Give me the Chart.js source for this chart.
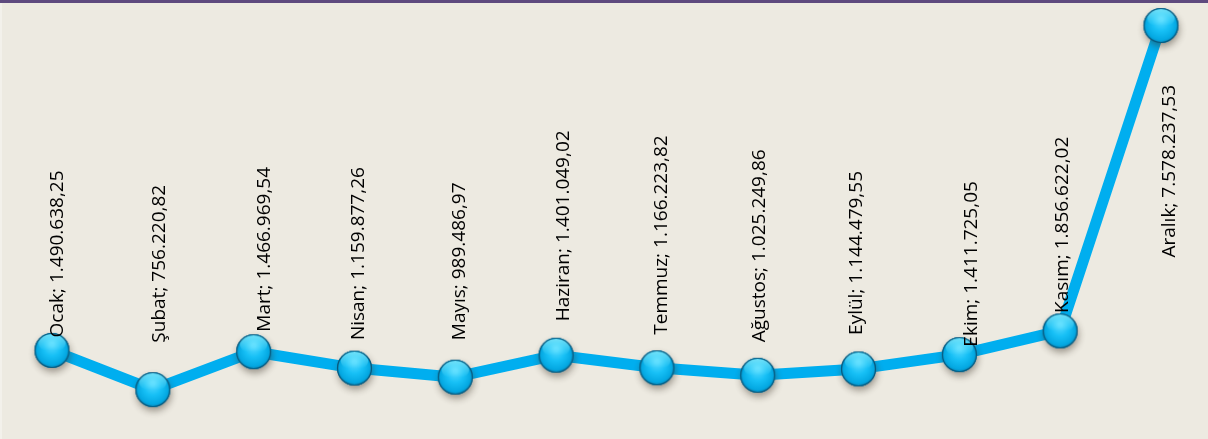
<!DOCTYPE html>
<html>
<head>
<meta charset="utf-8">
<script src="https://cdn.jsdelivr.net/npm/chart.js@4/dist/chart.umd.min.js"></script>
<style>
  html, body { margin: 0; padding: 0; background: #EDEAE1; }
  #cadre { position: relative; width: 1208px; height: 439px; }
</style>
</head>
<body>
<div id="cadre"><canvas id="Graphique"></canvas></div>
<script>
/*
  Satış tutarı aylara göre (çizgi grafik, etiketler dikey)
*/
var aylar = ['Ocak', 'Şubat', 'Mart', 'Nisan', 'Mayıs', 'Haziran',
    'Temmuz', 'Ağustos', 'Eylül', 'Ekim', 'Kasım', 'Aralık'];
var tutarlar = [1490638.25, 756220.82, 1466969.54, 1159877.26, 989486.97, 1401049.02,
    1166223.82, 1025249.86, 1144479.55, 1411725.05, 1856622.02, 7578237.53];

// etiket kaydırmaları (nokta merkezine göre, piksel)
var etiketDx = [4, 5, 9.5, 2.5, 3, 6, 3, 0, -3, 10.5, 1, 7];
var etiketDy = [13, 47, 20, 28, 37, 34, 33, 33, 34, 8, 18, -232];

function trSayi(v) {
    var parca = v.toFixed(2).split('.');
    var tam = parca[0].replace(/\B(?=(\d{3})+(?!\d))/g, '.');
    return tam + ',' + parca[1];
}

// küre şeklinde nokta
function kureYap(r) {
    var c = document.createElement('canvas');
    var boy = Math.ceil(r * 2 + 24);
    c.width = boy;
    c.height = boy;
    var g = c.getContext('2d');
    var m = boy / 2;
    g.save();
    g.shadowColor = 'rgba(60, 50, 40, 0.45)';
    g.shadowBlur = 7;
    g.shadowOffsetX = 1;
    g.shadowOffsetY = 4;
    g.beginPath();
    g.arc(m, m, r, 0, Math.PI * 2);
    g.fillStyle = '#0A9ED6';
    g.fill();
    g.restore();

    var grad = g.createRadialGradient(m, m - r * 0.35, r * 0.1, m, m, r);
    grad.addColorStop(0, '#4FD8FF');
    grad.addColorStop(0.45, '#17C0F6');
    grad.addColorStop(0.85, '#04A8E2');
    grad.addColorStop(1, '#0784B5');
    g.beginPath();
    g.arc(m, m, r, 0, Math.PI * 2);
    g.fillStyle = grad;
    g.fill();

    // üstteki parlaklık
    var p = g.createLinearGradient(0, m - r, 0, m);
    p.addColorStop(0, 'rgba(140, 240, 255, 0.85)');
    p.addColorStop(1, 'rgba(140, 240, 255, 0)');
    g.beginPath();
    g.ellipse(m, m - r * 0.42, r * 0.78, r * 0.52, 0, 0, Math.PI * 2);
    g.fillStyle = p;
    g.fill();

    g.beginPath();
    g.arc(m, m, r - 0.5, 0, Math.PI * 2);
    g.lineWidth = 1.2;
    g.strokeStyle = 'rgba(10, 70, 100, 0.75)';
    g.stroke();
    return c;
}

var arkaPlan = {
    id: 'arkaPlan',
    beforeDraw: function (chart) {
        var ctx = chart.ctx;
        ctx.save();
        ctx.fillStyle = '#EDEAE1';
        ctx.fillRect(0, 0, chart.width, chart.height);
        ctx.fillStyle = '#F3F1EB';
        ctx.fillRect(0, 0, 2, chart.height);
        ctx.fillStyle = '#5E4A7E';
        ctx.fillRect(0, 0, chart.width, 3);
        ctx.restore();
    }
};

var etiketler = {
    id: 'etiketler',
    afterDatasetsDraw: function (chart) {
        var ctx = chart.ctx;
        var meta = chart.getDatasetMeta(0);
        ctx.save();
        ctx.font = '19px "Open Sans"';
        ctx.fillStyle = '#000000';
        ctx.textAlign = 'left';
        ctx.textBaseline = 'alphabetic';
        meta.data.forEach(function (pt, i) {
            var txt = aylar[i] + '; ' + trSayi(tutarlar[i]);
            ctx.save();
            ctx.translate(pt.x + etiketDx[i] + 6.8, pt.y - etiketDy[i]);
            ctx.rotate(-Math.PI / 2);
            ctx.fillText(txt, 0, 0);
            ctx.restore();
        });
        ctx.restore();
    }
};

var kure = kureYap(17.5);

var data = {
    labels: aylar,
    datasets: [{
        label: 'Tutar',
        data: tutarlar,
        borderColor: '#00AEEF',
        borderWidth: 11,
        borderJoinStyle: 'round',
        borderCapStyle: 'round',
        tension: 0,
        pointStyle: kure,
        pointRadius: 17.5,
        pointHoverRadius: 17.5,
        clip: false
    }]
};

var option = {
    responsive: true,
    maintainAspectRatio: false,
    animation: false,
    events: [],
    layout: {
        autoPadding: false, // noktalar için ek boşluk istemiyoruz
        padding: { left: 52, right: 47, top: 3, bottom: 9 }
    },
    plugins: {
        legend: { display: false },
        title: { display: false },
        tooltip: { enabled: false }
    },
    scales: {
        x: { display: false, offset: false },
        y: { display: false, min: 0, max: 8000000 }
    }
};

var chartObj = new Chart(document.getElementById('Graphique').getContext('2d'), {
    type: 'line',
    data: data,
    options: option,
    plugins: [arkaPlan, etiketler]
});
</script>
</body>
</html>
